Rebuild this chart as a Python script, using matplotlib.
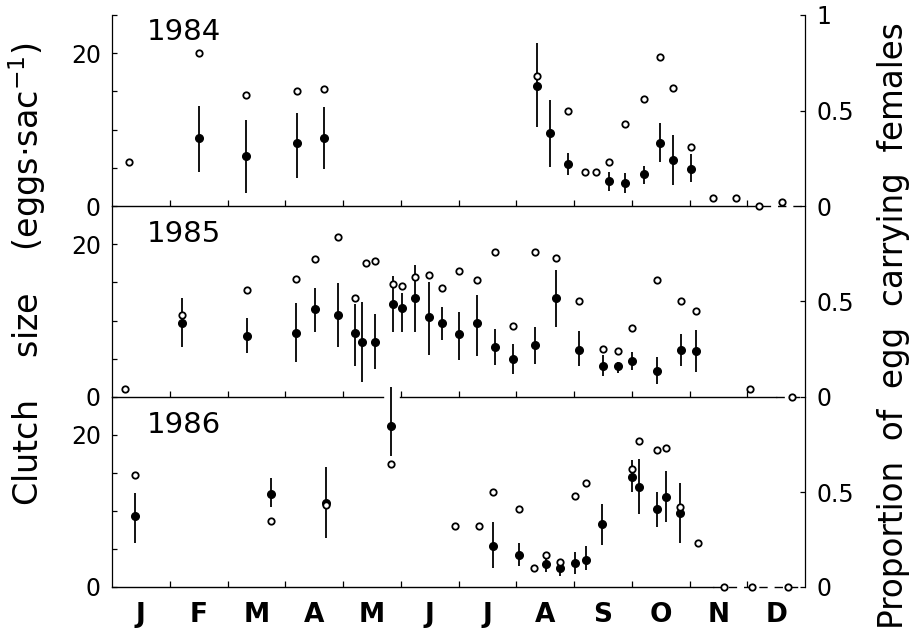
import matplotlib
matplotlib.use("Agg")
import matplotlib.pyplot as plt

# time in months from 1 January (0 = Jan 1, 12 = Dec 31)
months = ["J", "F", "M", "A", "M", "J", "J", "A", "S", "O", "N", "D"]

# 1984
clutch84_t = [1.50, 2.32, 3.21, 3.67, 7.36, 7.58, 7.89, 8.61, 8.88, 9.21, 9.49, 9.72, 10.02]
clutch84_mean = [8.9, 6.5, 8.2, 8.9, 15.7, 9.5, 5.5, 3.3, 3.0, 4.2, 8.2, 6.0, 4.9]
clutch84_lo = [4.5, 1.7, 3.6, 4.8, 10.3, 5.1, 4.0, 2.0, 1.7, 2.9, 5.8, 2.8, 3.2]
clutch84_hi = [13.1, 11.3, 12.2, 13.0, 21.4, 13.9, 7.0, 4.5, 4.3, 5.2, 10.8, 9.3, 6.8]
prop84_t = [0.30, 1.50, 2.32, 3.21, 3.67, 7.36, 7.89, 8.19, 8.38, 8.61, 8.88, 9.21,
            9.49, 9.72, 10.02, 10.41, 10.81, 11.20, 11.60]
prop84_val = [0.23, 0.80, 0.58, 0.60, 0.61, 0.68, 0.50, 0.18, 0.18, 0.23, 0.43, 0.56,
              0.78, 0.62, 0.31, 0.04, 0.04, 0.0, 0.02]

# 1985
clutch85_t = [1.21, 2.33, 3.19, 3.51, 3.91, 4.21, 4.33, 4.56, 4.87, 5.02, 5.25, 5.49,
              5.71, 6.01, 6.32, 6.63, 6.94, 7.32, 7.69, 8.08, 8.51, 8.77, 9.00, 9.43,
              9.85, 10.12]
clutch85_mean = [9.7, 8.0, 8.4, 11.5, 10.7, 8.4, 7.2, 7.2, 12.2, 11.6, 12.9, 10.5,
                 9.7, 8.3, 9.7, 6.5, 5.0, 6.8, 13.0, 6.2, 4.1, 4.0, 4.7, 3.4, 6.2, 6.0]
clutch85_lo = [6.6, 5.7, 4.6, 8.5, 6.5, 4.0, 2.0, 3.7, 8.5, 8.5, 8.5, 5.5,
               7.5, 4.9, 5.4, 4.2, 3.0, 4.3, 9.2, 4.1, 2.8, 3.2, 3.5, 1.7, 4.1, 3.3]
clutch85_hi = [12.9, 10.4, 12.3, 14.3, 14.9, 12.2, 12.4, 10.9, 15.8, 13.6, 17.3, 15.1,
               11.8, 11.1, 13.3, 8.9, 6.9, 9.1, 16.6, 8.6, 5.5, 4.6, 5.9, 5.3, 8.3, 8.8]
prop85_t = [0.23, 1.21, 2.33, 3.19, 3.51, 3.91, 4.21, 4.39, 4.56, 4.87, 5.02, 5.25,
            5.49, 5.71, 6.01, 6.32, 6.63, 6.94, 7.32, 7.69, 8.08, 8.51, 8.77, 9.00,
            9.43, 9.85, 10.12, 11.05, 11.77]
prop85_val = [0.04, 0.43, 0.56, 0.62, 0.72, 0.84, 0.52, 0.70, 0.71, 0.59, 0.58, 0.63,
              0.64, 0.57, 0.66, 0.61, 0.76, 0.37, 0.76, 0.73, 0.50, 0.25, 0.24, 0.36,
              0.61, 0.50, 0.45, 0.04, 0.0]

# 1986
clutch86_t = [0.39, 2.75, 3.71, 4.83, 6.60, 7.05, 7.52, 7.75, 8.01, 8.21, 8.48, 9.00,
              9.13, 9.43, 9.59, 9.84]
clutch86_mean = [9.3, 12.3, 11.1, 21.2, 5.4, 4.2, 3.0, 2.5, 3.2, 3.6, 8.3, 14.5,
                 13.2, 10.2, 11.9, 9.7]
clutch86_lo = [5.8, 10.5, 6.5, 17.2, 2.5, 2.8, 2.0, 1.5, 1.7, 2.2, 5.5, 12.5,
               9.6, 7.9, 8.6, 5.8]
clutch86_hi = [12.4, 14.3, 15.8, 26.3, 8.5, 5.8, 3.9, 3.3, 4.6, 5.4, 10.9, 16.7,
               16.8, 12.5, 15.3, 13.7]
prop86_t = [0.40, 2.76, 3.71, 4.83, 5.94, 6.36, 6.60, 7.05, 7.30, 7.52, 7.75, 8.01,
            8.21, 9.00, 9.13, 9.43, 9.59, 9.84, 10.14, 10.59, 11.09, 11.71]
prop86_val = [0.59, 0.35, 0.43, 0.65, 0.32, 0.32, 0.50, 0.41, 0.10, 0.17, 0.13, 0.48,
              0.55, 0.62, 0.77, 0.72, 0.73, 0.42, 0.23, 0.0, 0.0, 0.0]

years = ["1984", "1985", "1986"]
clutch = [
    (clutch84_t, clutch84_mean, clutch84_lo, clutch84_hi),
    (clutch85_t, clutch85_mean, clutch85_lo, clutch85_hi),
    (clutch86_t, clutch86_mean, clutch86_lo, clutch86_hi),
]
prop = [(prop84_t, prop84_val), (prop85_t, prop85_val), (prop86_t, prop86_val)]

# panel layout in pixels (top, bottom) of a 918x637 canvas
W, H = 918, 637
panels_px = [(15, 206), (206, 397), (397, 587)]
left_px, right_px = 112, 805
year_pos = [0.91, 0.853, 0.853]
# baseline pieces: (start, end, dashed)
baselines = [
    [(0, 11.0, False), (11.0, 12, True)],
    [(0, 4.69, False), (4.99, 11.5, False), (11.5, 12, True)],
    [(0, 10.4, False), (10.4, 12, True)],
]

plt.rcParams["font.family"] = "DejaVu Sans"
fig = plt.figure(figsize=(W / 100, H / 100), dpi=100)

for i in range(3):
    top, bot = panels_px[i]
    ax = fig.add_axes([left_px / W, 1 - bot / H, (right_px - left_px) / W, (bot - top) / H])
    ax.patch.set_visible(False)
    ax.set_xlim(0, 12)
    ax.set_ylim(0, 25)
    for s in ["top", "bottom", "right"]:
        ax.spines[s].set_visible(False)
    ax.spines["left"].set_linewidth(0.9)

    if i == 0:
        ax.set_yticks([0, 5, 10, 15, 20, 25], ["0", "", "", "", "20", ""])
    else:
        ax.set_yticks([0, 5, 10, 15, 20], ["0", "", "", "", "20"])
    ax.tick_params(axis="y", direction="in", length=3.5, width=0.9, labelsize=17, pad=8)

    ax.set_xticks(range(1, 12))
    ax.tick_params(axis="x", which="major", direction="in", length=4.5, width=0.9,
                   labelbottom=False)
    if i == 2:
        ax.set_xticks([m + 0.5 for m in range(12)], minor=True)
        ax.set_xticklabels(months, minor=True, fontsize=19, fontweight="bold")
        ax.tick_params(axis="x", which="minor", length=0, pad=11)

    for x0, x1, dashed in baselines[i]:
        ax.plot([x0, x1], [0, 0], color="black", lw=1.0,
                ls=(0, (6, 5)) if dashed else "-", clip_on=False)

    t, mean, lo, hi = clutch[i]
    ax.vlines(t, lo, hi, color="black", lw=1.3, clip_on=False, zorder=2)
    ax.plot(t, mean, "o", color="black", ms=5.5, clip_on=False, zorder=3)

    ax.text(0.05, year_pos[i], years[i], transform=ax.transAxes, fontsize=21,
            va="center", ha="left")

    ax2 = ax.twinx()
    ax2.set_ylim(0, 1)
    for s in ["top", "bottom", "left"]:
        ax2.spines[s].set_visible(False)
    ax2.spines["right"].set_linewidth(0.9)
    if i == 0:
        ax2.set_yticks([0, 0.5, 1], ["0", "0.5", "1"])
    else:
        ax2.set_yticks([0, 0.5], ["0", "0.5"])
    ax2.tick_params(axis="y", direction="in", length=3.5, width=0.9, labelsize=17, pad=8)

    pt, pv = prop[i]
    ax2.plot(pt, pv, "o", mfc="white", mec="black", ms=4.6, mew=1.3,
             clip_on=False, zorder=4)

fig.text(27 / W, 1 - 274 / H, "Clutch    size    (eggs\u00b7sac$^{-1}$)", rotation=90,
         ha="center", va="center", fontsize=24)
fig.text(894 / W, 1 - 326 / H, "Proportion  of  egg  carrying  females", rotation=90,
         ha="center", va="center", fontsize=23.5)

fig.savefig("out.png", dpi=100)
